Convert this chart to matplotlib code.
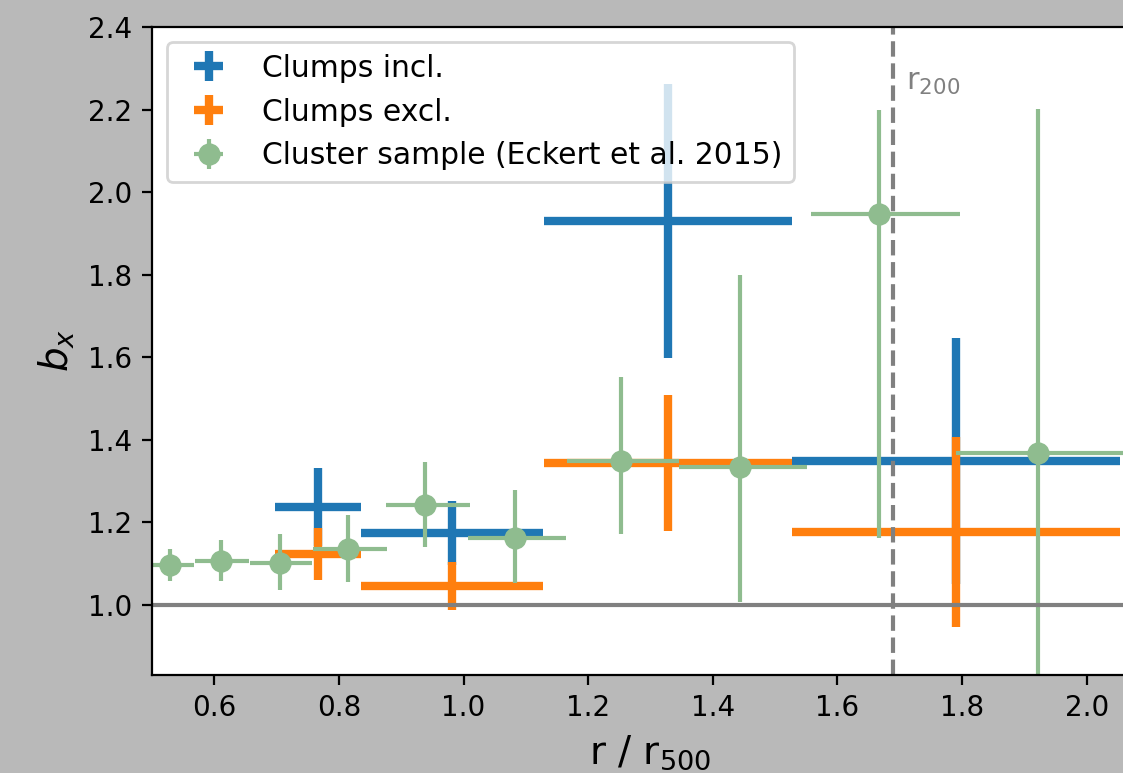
import matplotlib
matplotlib.use("Agg")
import matplotlib.pyplot as plt
import numpy as np

# radial bins (r / r500) for the simulated cluster
bin_x = [0.767, 0.982, 1.328, 1.790]
bin_xlo = [0.069, 0.147, 0.199, 0.263]
bin_xhi = [0.068, 0.146, 0.199, 0.263]

# clumping factor b_x with clumps included / excluded
incl_y = [1.237, 1.174, 1.930, 1.349]
incl_err = [0.094, 0.078, 0.332, 0.298]
excl_y = [1.122, 1.046, 1.344, 1.177]
excl_err = [0.063, 0.058, 0.164, 0.230]

# Eckert et al. 2015 cluster sample
eck_x = [0.529, 0.611, 0.705, 0.814, 0.938, 1.083, 1.252, 1.443, 1.667, 1.922]
eck_xlo = [0.038, 0.042, 0.048, 0.056, 0.062, 0.076, 0.086, 0.098, 0.109, 0.132]
eck_xhi = [0.038, 0.045, 0.052, 0.063, 0.072, 0.081, 0.093, 0.108, 0.130, 0.140]
eck_y = [1.096, 1.105, 1.102, 1.136, 1.243, 1.163, 1.349, 1.334, 1.946, 1.367]
eck_ylo = [0.039, 0.048, 0.065, 0.081, 0.104, 0.110, 0.178, 0.327, 0.785, 0.600]
eck_yhi = [0.040, 0.052, 0.070, 0.081, 0.102, 0.115, 0.204, 0.465, 0.253, 0.834]

r200 = 1.69

fig = plt.figure(figsize=(5.615, 3.865), dpi=200, facecolor="#b9b9b9")
ax = fig.add_axes([0.1354, 0.1268, 0.8877, 0.8383])

ax.errorbar(bin_x, incl_y, yerr=incl_err, xerr=[bin_xlo, bin_xhi],
            fmt="none", elinewidth=3, color="tab:blue", label="Clumps incl.")
ax.errorbar(bin_x, excl_y, yerr=excl_err, xerr=[bin_xlo, bin_xhi],
            fmt="none", elinewidth=3, color="tab:orange", label="Clumps excl.")
ax.errorbar(eck_x, eck_y, yerr=[eck_ylo, eck_yhi], xerr=[eck_xlo, eck_xhi],
            fmt="o", ms=7, elinewidth=1.5, color="darkseagreen",
            label="Cluster sample (Eckert et al. 2015)")

ax.axhline(1.0, color="gray", lw=1.5)
ax.axvline(r200, color="gray", lw=1.5, ls="--")
ax.text(r200 + 0.02, 2.247, "r$_{200}$", color="gray", fontsize=11, va="baseline")

ax.set_xlim(0.5, 2.1)
ax.set_ylim(0.83, 2.4)
ax.set_xticks(np.arange(0.6, 2.01, 0.2))
ax.set_yticks(np.arange(1.0, 2.41, 0.2))
ax.tick_params(labelsize=10)

ax.set_xlabel("r / r$_{500}$", fontsize=14)
ax.set_ylabel("$b_x$", fontsize=14)
ax.legend(loc="upper left", fontsize=10.7)

fig.savefig("out.png", dpi=200, facecolor=fig.get_facecolor())
